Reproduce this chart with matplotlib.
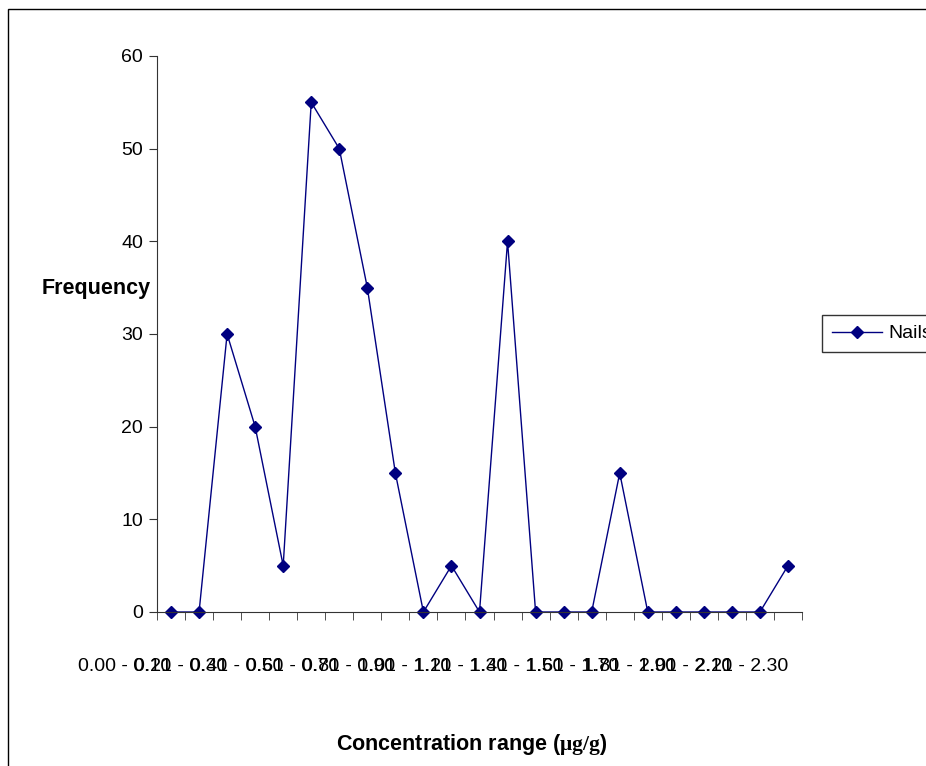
import matplotlib
matplotlib.use('Agg')
import matplotlib.pyplot as plt
from matplotlib.patches import Rectangle

plt.rcParams['font.family'] = ['Liberation Sans', 'DejaVu Sans']
plt.rcParams['mathtext.fontset'] = 'custom'
plt.rcParams['mathtext.bf'] = 'Liberation Serif:bold'
plt.rcParams['mathtext.rm'] = 'Liberation Serif'

# concentration ranges (ug/g) and frequency for nails
ranges = ['0.00 - 0.10', '0.11 - 0.20', '0.21 - 0.30', '0.31 - 0.40', '0.41 - 0.50',
          '0.51 - 0.60', '0.61 - 0.70', '0.71 - 0.80', '0.81 - 0.90', '0.91 - 1.00',
          '1.01 - 1.10', '1.11 - 1.20', '1.21 - 1.30', '1.31 - 1.40', '1.41 - 1.50',
          '1.51 - 1.60', '1.61 - 1.70', '1.71 - 1.80', '1.81 - 1.90', '1.91 - 2.00',
          '2.01 - 2.10', '2.11 - 2.20', '2.21 - 2.30']
nails = [0, 0, 30, 20, 5, 55, 50, 35, 15, 0, 5, 0, 40, 0, 0, 0, 15, 0, 0, 0, 0, 0, 5]
y_ticks = [0, 10, 20, 30, 40, 50, 60]

W, H = 926, 766
fig = plt.figure(figsize=(W / 100, H / 100), dpi=100)
ax = fig.add_axes([157 / W, 1 - 612 / H, 645 / W, 556 / H])

x = list(range(len(nails)))
ax.plot(x, nails, color='#000080', lw=1, marker='D', ms=6,
        markerfacecolor='#000080', markeredgecolor='#000080', label='Nails', clip_on=False)

ax.set_xlim(-0.5, len(nails) - 0.5)
ax.set_ylim(0, 60)
ax.set_yticks(y_ticks)
ax.tick_params(axis='y', direction='out', length=6, labelsize=14, pad=4, color='#333333')

# labels every other category (right aligned, overlapping like the original), boundaries as minor ticks
ax.set_xticks(x[::2])
ax.set_xticklabels(ranges[::2], fontsize=14, ha='right')
ax.set_xticks([i - 0.5 for i in range(len(nails) + 1)], minor=True)
ax.tick_params(axis='x', which='major', length=0, pad=33)
ax.tick_params(axis='x', which='minor', direction='out', length=6, color='#333333')

for s in ['top', 'right']:
    ax.spines[s].set_visible(False)
for s in ['left', 'bottom']:
    ax.spines[s].set_color('#333333')

ax.set_ylabel('Frequency', rotation=0, fontsize=15.5, fontweight='bold', ha='right', va='center')
ax.yaxis.set_label_coords(-0.01, (612 - 289) / 556)
ax.set_xlabel(r'Concentration range ($\mathbf{\mu g/g}$)', fontsize=15.5, fontweight='bold')
ax.xaxis.set_label_coords((472 - 157) / 645, -(732 - 612) / 556)

leg = ax.legend(loc='upper left', bbox_to_anchor=(822 / W, 1 - 315 / H),
                bbox_transform=fig.transFigure, fontsize=14, frameon=True, fancybox=False,
                borderpad=0.5, handlelength=2.6, handletextpad=0.3, borderaxespad=0)
leg.get_frame().set_edgecolor('black')
leg.get_frame().set_linewidth(1)

# outer chart border (cropped at right and bottom)
fig.patches.append(Rectangle((8 / W, -0.05), 1.1, 1 - 9 / H + 0.05, transform=fig.transFigure,
                             fill=False, edgecolor='black', lw=1))

fig.savefig('out.png', dpi=100)
